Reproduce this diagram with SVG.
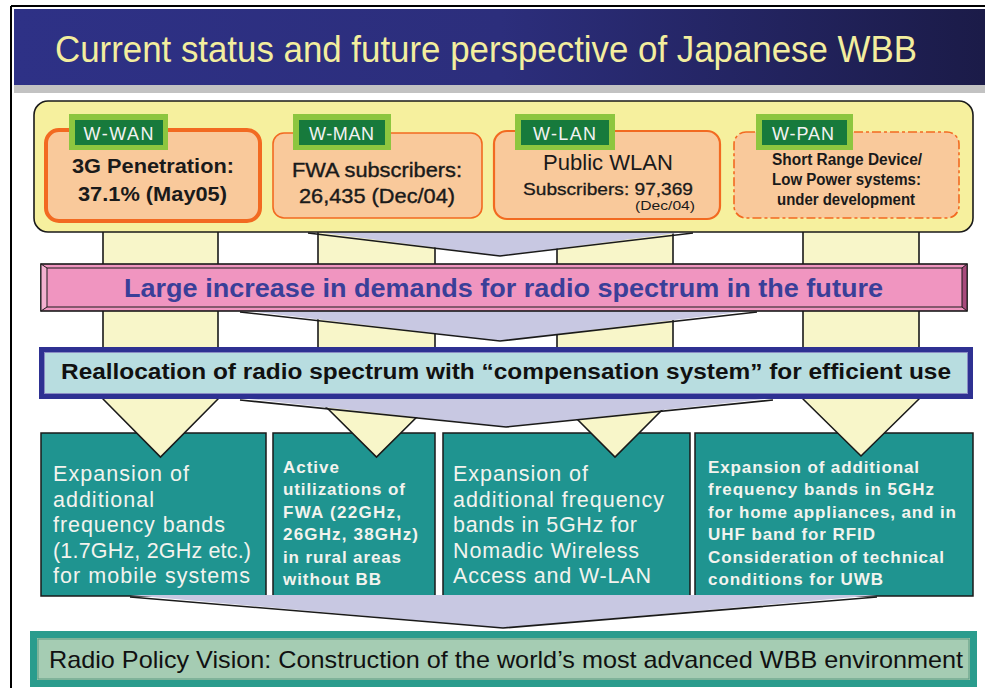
<svg xmlns="http://www.w3.org/2000/svg" width="985" height="688" viewBox="0 0 985 688">
<defs>
<linearGradient id="titleGrad" x1="0" y1="0" x2="1" y2="0">
<stop offset="0" stop-color="#2e3186"/>
<stop offset="0.5" stop-color="#2c2e7c"/>
<stop offset="1" stop-color="#1b1b48"/>
</linearGradient>
<style>
.f{font-family:"Liberation Sans",Arial,sans-serif}
.bar{fill:#f8f6c9;stroke:#1a1a1a;stroke-width:1.6}
.fun{fill:#c8c8e2;stroke:none}
.funl{fill:none;stroke:#1a1a1a;stroke-width:1.6}
.ob{fill:#f9c99b;stroke:#f26a21}
.gl{fill:#8dc63f}
.gi{fill:#177a3c}
.glt{font-family:"Liberation Sans",Arial,sans-serif;font-size:18px;fill:#f2f2f2;text-anchor:middle}
.bt{font-family:"Liberation Sans",Arial,sans-serif;fill:#1a1a1a;text-anchor:middle}
.teal{fill:#1f9490;stroke:#1a1a1a;stroke-width:1.5}
.tt{font-family:"Liberation Sans",Arial,sans-serif;font-size:21.5px;fill:#f3f3ee}
.ts{font-family:"Liberation Sans",Arial,sans-serif;font-size:17px;font-weight:bold;fill:#f3f3ee}
</style>
</defs>
<rect x="0" y="0" width="985" height="688" fill="#ffffff"/>
<line x1="11" y1="6" x2="11" y2="688" stroke="#000" stroke-width="2"/>
<line x1="11" y1="6" x2="985" y2="6" stroke="#000" stroke-width="2"/>
<g id="title">
<rect x="14" y="85" width="971" height="8" fill="#c2c2c2"/>
<rect x="14" y="9" width="971" height="76" fill="url(#titleGrad)"/>
<text class="f" x="55" y="61.5" font-size="36" fill="#f3ee9e" textLength="862" lengthAdjust="spacingAndGlyphs">Current status and future perspective of Japanese WBB</text>
</g>
<g id="bottom-boxes">
<g id="box-mobile"><rect class="teal" x="41" y="433" width="225" height="163"/>
<text class="tt"><tspan x="53" y="481" textLength="136">Expansion of</tspan><tspan x="53" y="506.5" textLength="101">additional</tspan><tspan x="53" y="532" textLength="172">frequency bands</tspan><tspan x="53" y="557.5" textLength="198">(1.7GHz, 2GHz etc.)</tspan><tspan x="53" y="583" textLength="197">for mobile systems</tspan></text></g>
<g id="box-fwa"><rect class="teal" x="273" y="433" width="162" height="163"/>
<text class="ts"><tspan x="283" y="473" textLength="56">Active</tspan><tspan x="283" y="495.4" textLength="122">utilizations of</tspan><tspan x="283" y="517.8" textLength="118">FWA (22GHz,</tspan><tspan x="283" y="540.2" textLength="135">26GHz, 38GHz)</tspan><tspan x="283" y="562.6" textLength="118">in rural areas</tspan><tspan x="283" y="585" textLength="98">without BB</tspan></text></g>
<g id="box-nomadic"><rect class="teal" x="443" y="433" width="247" height="163"/>
<text class="tt"><tspan x="453" y="481" textLength="135">Expansion of</tspan><tspan x="453" y="506.5" textLength="211">additional frequency</tspan><tspan x="453" y="532" textLength="184">bands in 5GHz for</tspan><tspan x="453" y="557.5" textLength="186">Nomadic Wireless</tspan><tspan x="453" y="583" textLength="198">Access and W-LAN</tspan></text></g>
<g id="box-home"><rect class="teal" x="695" y="433" width="278" height="163"/>
<text class="ts"><tspan x="708" y="473" textLength="211">Expansion of additional</tspan><tspan x="708" y="495.4" textLength="226">frequency bands in 5GHz</tspan><tspan x="708" y="517.8" textLength="248">for home appliances, and in</tspan><tspan x="708" y="540.2" textLength="167">UHF band for RFID</tspan><tspan x="708" y="562.6" textLength="236">Consideration of technical</tspan><tspan x="708" y="585" textLength="175">conditions for UWB</tspan></text></g>
</g>
<g id="connectors">
<polygon class="bar" points="103,228 218,228 218,399 160.5,457 103,399"/>
<polygon class="bar" points="318,228 435,228 435,399 376.5,457 318,399"/>
<polygon class="bar" points="557,228 673,228 673,399 615,457 557,399"/>
<polygon class="bar" points="803,228 919,228 919,399 861,456 803,399"/>
<polygon class="fun" points="308,231 693,231 500,256"/>
<polyline class="funl" points="308,233 500,256 693,233"/>
<polygon class="fun" points="240,310 757,310 500,341"/>
<polyline class="funl" points="240,312 500,341 757,312"/>
<polygon class="fun" points="240,398 773,398 506,427"/>
<polyline class="funl" points="240,400 506,427 773,400"/>
<polygon class="fun" points="130,595 877,595 503,628"/>
<polyline class="funl" points="130,597 503,628 877,597"/>
</g>
<g id="top-container">
<rect x="34" y="101" width="939" height="131" rx="14" fill="#f6f09e" stroke="#1a1a1a" stroke-width="1.6"/>
</g>
<g id="wwan">
<rect class="ob" x="46" y="130" width="214" height="91" rx="13" stroke-width="4"/>
<rect class="gl" x="69" y="114" width="99" height="36"/><rect class="gi" x="75" y="120" width="88" height="25"/>
<text class="glt" x="118.5" y="140" textLength="70">W-WAN</text>
<text class="bt" x="153" y="173" font-size="21" font-weight="bold" textLength="162" lengthAdjust="spacingAndGlyphs">3G Penetration:</text>
<text class="bt" x="152.5" y="201" font-size="21" font-weight="bold" textLength="149" lengthAdjust="spacingAndGlyphs">37.1% (May05)</text>
</g>
<g id="wman">
<rect class="ob" x="273" y="133" width="209" height="85" rx="11" stroke-width="1.6"/>
<rect class="gl" x="293" y="114" width="98" height="36"/><rect class="gi" x="299" y="120" width="86" height="25"/>
<text class="glt" x="341.5" y="140" textLength="65">W-MAN</text>
<text class="bt" x="377" y="177" font-size="21" textLength="170" lengthAdjust="spacingAndGlyphs" stroke="#1a1a1a" stroke-width="0.4">FWA subscribers:</text>
<text class="bt" x="377" y="203" font-size="21" textLength="156" lengthAdjust="spacingAndGlyphs" stroke="#1a1a1a" stroke-width="0.4">26,435 (Dec/04)</text>
</g>
<g id="wlan">
<rect class="ob" x="494" y="131" width="226" height="88" rx="13" stroke-width="2.2"/>
<rect class="gl" x="515" y="114" width="100" height="36"/><rect class="gi" x="521" y="120" width="88" height="25"/>
<text class="glt" x="564.5" y="140" textLength="63">W-LAN</text>
<text class="bt" x="608" y="170" font-size="22" textLength="130" lengthAdjust="spacingAndGlyphs">Public WLAN</text>
<text class="bt" x="608" y="195" font-size="16.5" textLength="170" lengthAdjust="spacingAndGlyphs" stroke="#1a1a1a" stroke-width="0.3">Subscribers: 97,369</text>
<text class="bt" x="665" y="210" font-size="13.5" textLength="60" lengthAdjust="spacingAndGlyphs">(Dec/04)</text>
</g>
<g id="wpan">
<rect class="ob" x="734" y="132" width="225" height="86" rx="12" stroke-width="1.6" stroke-dasharray="9 3 3 3"/>
<rect class="gl" x="756" y="114" width="97" height="36"/><rect class="gi" x="762" y="120" width="85" height="25"/>
<text class="glt" x="803" y="140" textLength="62">W-PAN</text>
<text class="bt" x="847" y="165" font-size="16" font-weight="bold" textLength="150" lengthAdjust="spacingAndGlyphs">Short Range Device/</text>
<text class="bt" x="846.5" y="185" font-size="16" font-weight="bold" textLength="149" lengthAdjust="spacingAndGlyphs">Low Power systems:</text>
<text class="bt" x="846" y="205" font-size="16" font-weight="bold" textLength="138" lengthAdjust="spacingAndGlyphs">under development</text>
</g>
<g id="demand-bar">
<rect x="41" y="264" width="926" height="47" fill="#f095c0" stroke="#1a1a1a" stroke-width="1.6"/>
<polygon points="41,264 47,268 47,307 41,311" fill="#f4b0d0" stroke="#1a1a1a" stroke-width="1"/>
<polygon points="967,264 962,268 962,307 967,311" fill="#a84a7c" stroke="#1a1a1a" stroke-width="1"/>
<line x1="47" y1="268" x2="962" y2="268" stroke="#1a1a1a" stroke-width="1"/>
<line x1="47" y1="307" x2="962" y2="307" stroke="#1a1a1a" stroke-width="1"/>
<text class="f" x="503.5" y="297" font-size="26" font-weight="bold" fill="#3a3f98" text-anchor="middle" textLength="759" lengthAdjust="spacingAndGlyphs">Large increase in demands for radio spectrum in the future</text>
</g>
<g id="reallocation-bar">
<rect x="41.5" y="349.5" width="929" height="47" fill="#b8dde0" stroke="#2e3192" stroke-width="5"/>
<rect x="44.5" y="352.5" width="923" height="41" fill="none" stroke="#8a8cc4" stroke-width="1"/>
<text class="f" x="506" y="379" font-size="22.5" font-weight="bold" fill="#111" text-anchor="middle" textLength="890" lengthAdjust="spacingAndGlyphs">Reallocation of radio spectrum with “compensation system” for efficient use</text>
</g>
<g id="vision">
<rect x="33.5" y="634.5" width="940" height="49" fill="#a5ccb3" stroke="#2a9c8d" stroke-width="7"/>
<rect x="38" y="639" width="931" height="40" fill="none" stroke="#5a9a80" stroke-width="1"/>
<text class="f" x="506" y="667.5" font-size="23.8" fill="#111" text-anchor="middle" textLength="914" lengthAdjust="spacingAndGlyphs">Radio Policy Vision: Construction of the world’s most advanced WBB environment</text>
</g>
</svg>
